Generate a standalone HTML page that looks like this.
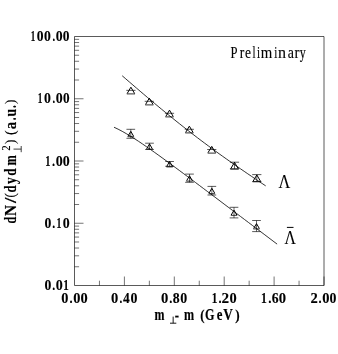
<!DOCTYPE html>
<html><head><meta charset="utf-8"><style>html,body{margin:0;padding:0;background:#fff;overflow:hidden}svg{display:block;will-change:transform}text{font-family:"Liberation Serif",serif;fill:#000}.b{stroke:#000;stroke-width:0.15px;vector-effect:non-scaling-stroke}.r{stroke:#000;stroke-width:0.12px;vector-effect:non-scaling-stroke}.t{stroke:#000;stroke-width:0.12px;vector-effect:non-scaling-stroke}</style></head><body>
<svg width="338" height="354" viewBox="0 0 338 354">
<rect width="338" height="354" fill="#fff"/>
<path d="M74.5 36.5V285.5H324.0" stroke="#000" stroke-width="0.65" fill="none"/>
<path d="M74.5 36.5H324.0V285.5" stroke="#000" stroke-width="0.65" fill="none"/>
<path d="M74.5 80.01h4.6M74.5 69.05h4.6M74.5 61.27h4.6M74.5 55.24h4.6M74.5 50.31h4.6M74.5 46.14h4.6M74.5 42.53h4.6M74.5 39.35h4.6M74.5 98.75h9M74.5 142.26h4.6M74.5 131.30h4.6M74.5 123.52h4.6M74.5 117.49h4.6M74.5 112.56h4.6M74.5 108.39h4.6M74.5 104.78h4.6M74.5 101.60h4.6M74.5 161.00h9M74.5 204.51h4.6M74.5 193.55h4.6M74.5 185.77h4.6M74.5 179.74h4.6M74.5 174.81h4.6M74.5 170.64h4.6M74.5 167.03h4.6M74.5 163.85h4.6M74.5 223.25h9M74.5 266.76h4.6M74.5 255.80h4.6M74.5 248.02h4.6M74.5 241.99h4.6M74.5 237.06h4.6M74.5 232.89h4.6M74.5 229.28h4.6M74.5 226.10h4.6" stroke="#000" stroke-width="0.55" fill="none"/>
<path d="M99.45 285.5v-4.8M124.40 285.5v-9M149.35 285.5v-4.8M174.30 285.5v-9M199.25 285.5v-4.8M224.20 285.5v-9M249.15 285.5v-4.8M274.10 285.5v-9M299.05 285.5v-4.8M324.00 285.5v-9" stroke="#000" stroke-width="0.55" fill="none"/>
<path d="M122.20 75.76L125.79 78.87L129.38 81.97L132.96 85.06L136.55 88.14L140.14 91.21L143.72 94.26L147.31 97.30L150.90 100.32L154.49 103.33L158.07 106.32L161.66 109.29L165.25 112.24L168.84 115.18L172.43 118.09L176.01 120.98L179.60 123.84L183.19 126.68L186.78 129.50L190.36 132.29L193.95 135.06L197.54 137.80L201.12 140.51L204.71 143.20L208.30 145.86L211.89 148.50L215.48 151.12L219.06 153.72L222.65 156.29L226.24 158.84L229.82 161.37L233.41 163.89L237.00 166.39L240.59 168.87L244.18 171.34L247.76 173.79L251.35 176.23L254.94 178.66L258.52 181.07L262.11 183.48L265.70 185.87M114.00 127.23L118.08 129.17L122.16 131.31L126.23 133.61L130.31 136.06L134.39 138.61L138.47 141.27L142.54 143.99L146.62 146.79L150.70 149.63L154.78 152.51L158.85 155.43L162.93 158.38L167.01 161.36L171.09 164.35L175.16 167.36L179.24 170.38L183.32 173.41L187.40 176.46L191.47 179.51L195.55 182.56L199.63 185.62L203.71 188.69L207.78 191.75L211.86 194.82L215.94 197.90L220.02 200.97L224.09 204.05L228.17 207.13L232.25 210.20L236.33 213.28L240.40 216.36L244.48 219.44L248.56 222.53L252.64 225.61L256.71 228.69L260.79 231.77L264.87 234.85L268.95 237.94L273.02 241.02L277.10 244.10" stroke="#000" stroke-width="0.8" fill="none"/>
<path d="M127.20 93.50L130.90 87.20L134.60 93.50M145.60 104.45L149.30 98.15L153.00 104.45M165.80 116.45L169.50 110.15L173.20 116.45M185.65 132.45L189.35 126.15L193.05 132.45M208.05 152.65L211.75 146.35L215.45 152.65M230.80 168.65L234.50 162.35L238.20 168.65M253.10 181.25L256.80 174.95L260.50 181.25M128.00 136.20L130.80 131.40L133.60 136.20M146.70 148.75L149.50 143.95L152.30 148.75M166.80 166.30L169.60 161.50L172.40 166.30M186.70 180.60L189.50 175.80L192.30 180.60M209.05 193.10L211.85 188.30L214.65 193.10M231.20 215.00L234.00 210.20L236.80 215.00M253.70 228.45L256.50 223.65L259.30 228.45" stroke="#000" stroke-width="1" fill="none" stroke-linejoin="miter"/>
<path d="M126.80 93.95h8.20M145.20 104.90h8.20M165.40 116.90h8.20M185.25 132.90h8.20M207.65 153.10h8.20M230.40 169.10h8.20M252.70 181.70h8.20M127.60 136.65h6.40M146.30 149.20h6.40M166.40 166.75h6.40M186.30 181.05h6.40M208.65 193.55h6.40M230.80 215.45h6.40M253.30 228.90h6.40" stroke="#000" stroke-width="1.3" stroke-opacity="0.65" fill="none"/>
<path d="M126.30 90.35h9.2M144.70 101.30h9.2M164.90 113.30h9.2M184.75 129.30h9.2M207.15 149.50h9.2M229.90 162.20h9.2M229.90 168.80h9.2M252.20 174.60h9.2M252.20 181.60h9.2M126.45 129.30h8.7M126.45 138.30h8.7M145.15 143.20h8.7M145.15 149.50h8.7M165.25 161.50h8.7M165.25 166.30h8.7M185.15 174.10h8.7M185.15 182.30h8.7M207.50 186.40h8.7M207.50 195.00h8.7M229.65 207.30h8.7M229.65 217.90h8.7M252.15 220.50h8.7M252.15 231.60h8.7" stroke="#000" stroke-width="0.65" fill="none"/>
<path d="M234.50 162.20V168.80M256.80 174.60V181.60M130.80 129.30V138.30M149.50 143.20V149.50M169.60 161.50V166.30M189.50 174.10V182.30M211.85 186.40V195.00M234.00 207.30V217.90M256.50 220.50V231.60" stroke="#000" stroke-width="0.6" fill="none"/>
<text transform="translate(30.78 41.0) scale(0.598 1.0)" font-size="15" font-weight="bold" class="t">1</text>
<text transform="translate(36.68 41.0) scale(0.904 1.0)" font-size="15" font-weight="bold" class="t">0</text>
<text transform="translate(44.08 41.0) scale(0.912 1.0)" font-size="15" font-weight="bold" class="t">0</text>
<text transform="translate(52.54 41.0) scale(0.699 1.0)" font-size="15" font-weight="bold" class="t">.</text>
<text transform="translate(55.77 41.0) scale(0.920 1.0)" font-size="15" font-weight="bold" class="t">0</text>
<text transform="translate(62.79 41.0) scale(0.897 1.0)" font-size="15" font-weight="bold" class="t">0</text>
<text transform="translate(37.86 103.25) scale(0.616 1.0)" font-size="15" font-weight="bold" class="t">1</text>
<text transform="translate(44.07 103.25) scale(0.920 1.0)" font-size="15" font-weight="bold" class="t">0</text>
<text transform="translate(52.54 103.25) scale(0.699 1.0)" font-size="15" font-weight="bold" class="t">.</text>
<text transform="translate(55.77 103.25) scale(0.928 1.0)" font-size="15" font-weight="bold" class="t">0</text>
<text transform="translate(62.90 103.25) scale(0.881 1.0)" font-size="15" font-weight="bold" class="t">0</text>
<text transform="translate(45.17 165.5) scale(0.688 1.0)" font-size="15" font-weight="bold" class="t">1</text>
<text transform="translate(52.06 165.5) scale(0.822 1.0)" font-size="15" font-weight="bold" class="t">.</text>
<text transform="translate(55.67 165.5) scale(0.936 1.0)" font-size="15" font-weight="bold" class="t">0</text>
<text transform="translate(62.77 165.5) scale(0.928 1.0)" font-size="15" font-weight="bold" class="t">0</text>
<text transform="translate(44.48 227.75) scale(0.912 1.0)" font-size="15" font-weight="bold" class="t">0</text>
<text transform="translate(52.18 227.75) scale(0.781 1.0)" font-size="15" font-weight="bold" class="t">.</text>
<text transform="translate(56.52 227.75) scale(0.652 1.0)" font-size="15" font-weight="bold" class="t">1</text>
<text transform="translate(62.77 227.75) scale(0.928 1.0)" font-size="15" font-weight="bold" class="t">0</text>
<text transform="translate(44.48 290.0) scale(0.912 1.0)" font-size="15" font-weight="bold" class="t">0</text>
<text transform="translate(52.18 290.0) scale(0.781 1.0)" font-size="15" font-weight="bold" class="t">.</text>
<text transform="translate(55.67 290.0) scale(0.936 1.0)" font-size="15" font-weight="bold" class="t">0</text>
<text transform="translate(63.37 290.0) scale(0.733 1.0)" font-size="15" font-weight="bold" class="t">1</text>
<text transform="translate(61.36 303.15) scale(0.952 1.0)" font-size="15" font-weight="bold" class="t">0</text>
<text transform="translate(69.46 303.15) scale(0.822 1.0)" font-size="15" font-weight="bold" class="t">.</text>
<text transform="translate(73.15 303.15) scale(0.960 1.0)" font-size="15" font-weight="bold" class="t">0</text>
<text transform="translate(80.45 303.15) scale(0.960 1.0)" font-size="15" font-weight="bold" class="t">0</text>
<text transform="translate(111.05 303.15) scale(0.967 1.0)" font-size="15" font-weight="bold" class="t">0</text>
<text transform="translate(119.51 303.15) scale(0.740 1.0)" font-size="15" font-weight="bold" class="t">.</text>
<text transform="translate(123.02 303.15) scale(0.898 1.0)" font-size="15" font-weight="bold" class="t">4</text>
<text transform="translate(130.47 303.15) scale(0.928 1.0)" font-size="15" font-weight="bold" class="t">0</text>
<text transform="translate(161.04 303.15) scale(0.975 1.0)" font-size="15" font-weight="bold" class="t">0</text>
<text transform="translate(169.16 303.15) scale(0.822 1.0)" font-size="15" font-weight="bold" class="t">.</text>
<text transform="translate(172.74 303.15) scale(0.923 1.0)" font-size="15" font-weight="bold" class="t">8</text>
<text transform="translate(180.17 303.15) scale(0.928 1.0)" font-size="15" font-weight="bold" class="t">0</text>
<text transform="translate(211.70 303.15) scale(0.751 1.0)" font-size="15" font-weight="bold" class="t">1</text>
<text transform="translate(218.46 303.15) scale(0.822 1.0)" font-size="15" font-weight="bold" class="t">.</text>
<text transform="translate(221.56 303.15) scale(1.012 1.0)" font-size="15" font-weight="bold" class="t">2</text>
<text transform="translate(229.45 303.15) scale(0.960 1.0)" font-size="15" font-weight="bold" class="t">0</text>
<text transform="translate(260.98 303.15) scale(0.770 1.0)" font-size="15" font-weight="bold" class="t">1</text>
<text transform="translate(268.13 303.15) scale(0.864 1.0)" font-size="15" font-weight="bold" class="t">.</text>
<text transform="translate(271.73 303.15) scale(0.916 1.0)" font-size="15" font-weight="bold" class="t">6</text>
<text transform="translate(278.84 303.15) scale(0.975 1.0)" font-size="15" font-weight="bold" class="t">0</text>
<text transform="translate(310.54 303.15) scale(0.972 1.0)" font-size="15" font-weight="bold" class="t">2</text>
<text transform="translate(318.46 303.15) scale(0.822 1.0)" font-size="15" font-weight="bold" class="t">.</text>
<text transform="translate(322.15 303.15) scale(0.967 1.0)" font-size="15" font-weight="bold" class="t">0</text>
<text transform="translate(329.52 303.15) scale(0.920 1.0)" font-size="15" font-weight="bold" class="t">0</text>
<text transform="translate(278.44 188.1) scale(0.896 1.0)" font-size="18.2" class="r">Λ</text>
<text transform="translate(284.55 243.8) scale(0.865 1.0)" font-size="18.2" class="r">Λ</text>
<path d="M286.9 227.4H293.5" stroke="#000" stroke-width="1" fill="none"/>
<text transform="translate(230.59 58.25) scale(0.739 1.0)" font-size="17" class="r">P</text>
<text transform="translate(239.79 58.25) scale(0.801 1.0)" font-size="17" class="r">r</text>
<text transform="translate(244.97 58.25) scale(0.795 1.0)" font-size="17" class="r">e</text>
<text transform="translate(252.48 58.25) scale(0.643 1.0)" font-size="17" class="r">l</text>
<text transform="translate(257.07 58.25) scale(0.656 1.0)" font-size="17" class="r">i</text>
<text transform="translate(260.79 58.25) scale(0.873 1.0)" font-size="17" class="r">m</text>
<text transform="translate(274.32 58.25) scale(0.656 1.0)" font-size="17" class="r">i</text>
<text transform="translate(278.03 58.25) scale(0.942 1.0)" font-size="17" class="r">n</text>
<text transform="translate(287.81 58.25) scale(0.819 1.0)" font-size="17" class="r">a</text>
<text transform="translate(294.60 58.25) scale(0.870 1.0)" font-size="17" class="r">r</text>
<text transform="translate(299.75 58.25) scale(0.705 1.0)" font-size="17" class="r">y</text>
<text transform="translate(154.58 320) scale(0.726 1.0)" font-size="16.5" font-weight="bold" class="b">m</text>
<text transform="translate(174.63 320.9) scale(0.770 1.0)" font-size="16.5" font-weight="bold" class="b">-</text>
<text transform="translate(183.97 320) scale(0.737 1.0)" font-size="16.5" font-weight="bold" class="b">m</text>
<text transform="translate(200.34 319.8) scale(0.779 0.89)" font-size="16.5" font-weight="bold" class="b">(</text>
<text transform="translate(205.06 320) scale(0.739 1.0)" font-size="16.5" font-weight="bold" class="b">G</text>
<text transform="translate(216.76 320) scale(0.774 1.0)" font-size="16.5" font-weight="bold" class="b">e</text>
<text transform="translate(223.25 320) scale(0.806 1.0)" font-size="16.5" font-weight="bold" class="b">V</text>
<text transform="translate(235.27 319.8) scale(0.802 0.89)" font-size="16.5" font-weight="bold" class="b">)</text>
<path d="M170 323.2H176.3M173.15 323.2V316.6" stroke="#000" stroke-width="0.9" fill="none"/>
<g transform="translate(15.9 224) rotate(-90)">
<text transform="translate(0.46 0) scale(0.739 1.0)" font-size="16.5" font-weight="bold" class="b">d</text>
<text transform="translate(8.01 0) scale(0.914 1.0)" font-size="16.5" font-weight="bold" class="b">N</text>
<text transform="translate(20.89 0) scale(1.180 1.0)" font-size="16.5" font-weight="bold" class="b">/</text>
<text transform="translate(26.54 -1.0) scale(0.779 0.92)" font-size="16.5" class="r">(</text>
<text transform="translate(31.49 0) scale(0.769 1.0)" font-size="16.5" font-weight="bold" class="b">d</text>
<text transform="translate(39.97 0) scale(0.807 1.0)" font-size="16.5" font-weight="bold" class="b">y</text>
<text transform="translate(48.22 0) scale(0.799 1.0)" font-size="16.5" font-weight="bold" class="b">d</text>
<text transform="translate(58.42 0) scale(0.749 1.0)" font-size="16.5" font-weight="bold" class="b">m</text>
<text transform="translate(79.75 -1.0) scale(0.849 0.92)" font-size="16.5" class="r">)</text>
<text transform="translate(88.88 -1.0) scale(0.849 0.92)" font-size="16.5" class="r">(</text>
<text transform="translate(94.82 0) scale(0.897 1.0)" font-size="16.5" font-weight="bold" class="b">a</text>
<text transform="translate(103.64 0) scale(0.636 1.0)" font-size="16.5" font-weight="bold" class="b">.</text>
<text transform="translate(107.39 0) scale(0.825 1.0)" font-size="16.5" font-weight="bold" class="b">u</text>
<text transform="translate(115.94 0) scale(0.636 1.0)" font-size="16.5" font-weight="bold" class="b">.</text>
<text transform="translate(119.85 -1.0) scale(0.849 0.92)" font-size="16.5" class="r">)</text>
<text transform="translate(73.33 -6.4) scale(0.825 1.0)" font-size="13" class="r">2</text>
<path d="M71.80 5.3H78.00M74.90 5.3V-2.4" stroke="#000" stroke-width="0.75" fill="none"/>
</g>
</svg></body></html>
